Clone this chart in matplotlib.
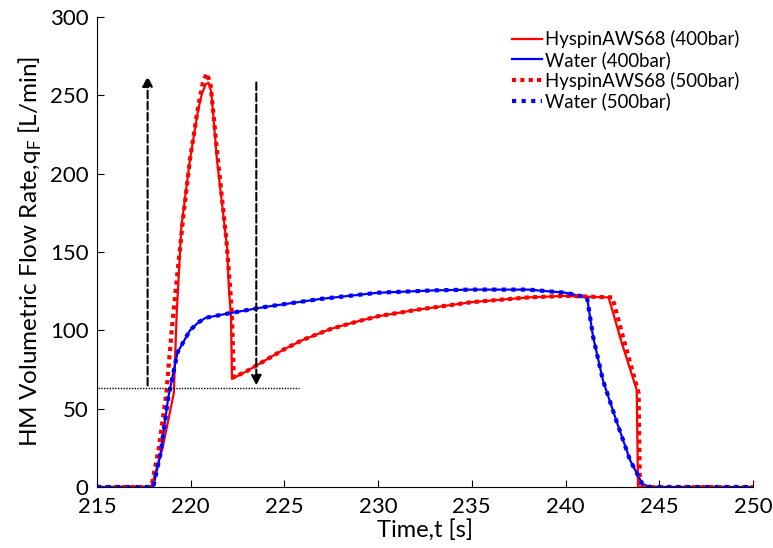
import matplotlib.pyplot as plt
import numpy as np

plt.rcParams['font.family'] = ['Lato', 'DejaVu Sans']

# HyspinAWS68 400 bar
t_h4 = [215, 217.9, 218.5, 219.1, 219.25, 219.5, 219.96, 220.4, 220.6, 220.8, 220.95, 221.1, 221.4, 221.94, 222.05, 222.15, 222.2,
        223, 224, 225, 226, 227.5, 229, 230, 232, 235, 238, 240, 242.3, 243.0, 243.8, 243.87, 244, 250]
q_h4 = [0, 0, 25, 60, 110, 166, 209, 241, 251, 257, 258, 252, 209, 153, 124, 110, 69,
        74, 81, 88, 94, 101, 106, 109, 113, 118, 121, 122, 121, 92, 62, 0, 0, 0]

# Water 400 bar
t_w4 = [215, 218.0, 218.4, 218.8, 219.3, 219.96, 220.4, 220.8, 222.1, 224, 226.9, 230, 233, 235, 238, 240, 241.15,
        241.47, 242.0, 242.75, 243.45, 244.1, 244.5, 250]
q_w4 = [0, 0, 22, 57, 86, 100, 105, 108, 111, 115, 120, 124, 125.5, 126, 126, 124, 121,
        96, 68, 41, 17, 2, 0, 0]

# HyspinAWS68 500 bar
t_h5 = [215, 217.9, 218.3, 218.7, 219.0, 219.27, 219.6, 219.96, 220.4, 220.65, 220.85, 221.05, 221.4, 221.9, 222.1, 222.2, 222.3,
        223, 224, 225, 226, 227.5, 229, 230, 232, 235, 238, 240, 242.5, 243.2, 243.9, 243.97, 244.1, 250]
q_h5 = [0, 0, 25, 60, 102, 134, 172, 209, 243, 258, 264, 258, 215, 158, 128, 110, 70,
        74, 81, 88, 94, 101, 106, 109, 113, 118, 121, 122, 121, 90, 60, 0, 0, 0]

# Water 500 bar
t_w5 = t_w4
q_w5 = q_w4

fig = plt.figure(figsize=(7.73, 5.48), dpi=100)
ax = fig.add_axes([0.1255, 0.1113, 0.8485, 0.8577])

ax.plot(t_h4, q_h4, color='red', lw=1.6, label='HyspinAWS68 (400bar)')
ax.plot(t_w4, q_w4, color='blue', lw=1.6, label='Water (400bar)')
ax.plot(t_h5, q_h5, color='red', lw=3, ls=(0, (1, 1)), label='HyspinAWS68 (500bar)')
ax.plot(t_w5, q_w5, color='blue', lw=3, ls=(0, (1, 1.3)), label='Water (500bar)')

# reference level and arrows
ax.plot([215.05, 225.8], [63, 63], color='black', lw=1, ls=(0, (1, 1)))
ax.annotate('', xy=(217.7, 264), xytext=(217.7, 63),
            arrowprops=dict(arrowstyle='-|>', color='black', lw=1.5, ls='--', mutation_scale=15))
ax.annotate('', xy=(223.5, 63), xytext=(223.5, 260),
            arrowprops=dict(arrowstyle='-|>', color='black', lw=1.5, ls='--', mutation_scale=15))

ax.set_xlim(215, 250)
ax.set_ylim(0, 300)
ax.set_xticks(np.arange(215, 251, 5))
ax.set_yticks(np.arange(0, 301, 50))
ax.tick_params(direction='in', labelsize=16, length=5)
ax.tick_params(axis='y', pad=6)
ax.tick_params(axis='x', pad=7)
for s in ['top', 'right']:
    ax.spines[s].set_visible(False)
ax.set_xlabel('Time,t [s]', fontsize=17, labelpad=2)
ax.set_ylabel('HM Volumetric Flow Rate,q$_\\mathregular{F}$ [L/min]', fontsize=17.5, labelpad=4)

ax.legend(loc='upper right', frameon=False, fontsize=13.4, handlelength=1.6,
          handletextpad=0.2, labelspacing=0.15, borderaxespad=0.3)

plt.savefig('out.png', dpi=100)
